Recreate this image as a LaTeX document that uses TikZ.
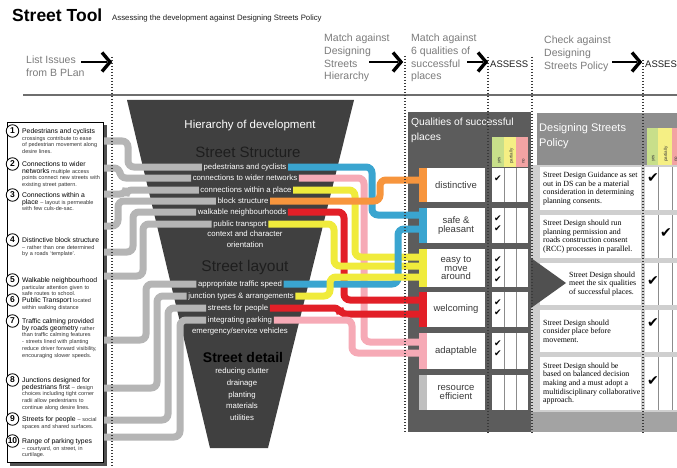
\documentclass[tikz,border=0pt]{standalone}
\usepackage{fontspec}
\setmainfont{Liberation Sans}
\newfontfamily\notefont{Liberation Serif}
\newfontfamily\tickfont{DejaVu Sans}
\usetikzlibrary{calc}

\definecolor{funnel}{HTML}{404040}
\definecolor{qpanel}{HTML}{5C5C5C}
\definecolor{tubegrey}{HTML}{B5B5B5}
\definecolor{tblue}{HTML}{3AA5D0}
\definecolor{tpink}{HTML}{F6AAB6}
\definecolor{tyellow}{HTML}{F0EB3C}
\definecolor{torange}{HTML}{F7953D}
\definecolor{tred}{HTML}{E21F27}
\definecolor{headgrey}{HTML}{7C7C7C}
\definecolor{rulegrey}{HTML}{6E6E6E}
\definecolor{dotgrey}{HTML}{3A3A3A}
\definecolor{shadowgrey}{HTML}{505050}
\definecolor{rhead}{HTML}{8E8E8E}
\definecolor{rbody}{HTML}{CFCFCF}
\definecolor{rband}{HTML}{A3A3A3}
\definecolor{yescol}{HTML}{C8DF8A}
\definecolor{partcol}{HTML}{F5EF84}
\definecolor{nocol}{HTML}{F2A3A3}
\definecolor{qtext}{HTML}{3A3A3A}
\definecolor{darkhead}{HTML}{1E1E1E}
\definecolor{issuetext}{HTML}{333333}

\hyphenpenalty=10000
\exhyphenpenalty=10000
\newcommand{\ttl}[1]{{\fontsize{6.8}{8}\selectfont\color{black}#1}}
\newcommand{\chk}{{\tickfont ✔}}

\tikzset{
  tube/.style={line width=7pt, rounded corners=6pt},
  greytube/.style={tube, draw=tubegrey},
  dotline/.style={draw=dotgrey, line width=1.7pt, dash pattern=on 1.3pt off 1.7pt},
  rowlabel/.style={text=white, font=\fontsize{7.8}{9}\selectfont, inner xsep=1.5pt, inner ysep=0.5pt},
  headtext/.style={text=headgrey, font=\fontsize{10.5}{12.7}\selectfont, align=left, anchor=north west, inner sep=0pt},
  chev/.style={line width=3.4pt, line cap=butt, line join=miter},
  shaft/.style={line width=1.1pt},
  numcirc/.style={circle, draw=black, line width=0.8pt, fill=white, minimum size=12.5pt, inner sep=0pt, font=\bfseries\fontsize{8.5}{8.5}\selectfont},
  issue/.style={anchor=north west, text width=78pt, align=left, inner sep=0pt, text=issuetext, font=\fontsize{5.5}{6.9}\selectfont},
  quality/.style={fill=white, minimum width=58pt, inner sep=1pt, align=center, text=qtext, font=\fontsize{9.5}{8.8}\selectfont},
  policy/.style={anchor=west, align=left, inner sep=0pt, text=black, font=\notefont\fontsize{7.9}{8.6}\selectfont},
  colhead/.style={rotate=90, anchor=west, inner sep=0pt, text=qtext, font=\fontsize{4.5}{5}\selectfont},
  cellline/.style={draw=black!45, line width=0.5pt},
  qtick/.style={inner sep=0pt, font=\fontsize{9}{9}\selectfont},
  ptick/.style={inner sep=0pt, font=\fontsize{14}{14}\selectfont},
}

\begin{document}
\begin{tikzpicture}[x=1pt, y=-1pt]
  \useasboundingbox (0,0) rectangle (677,468);
  \clip (0,0) rectangle (677,468);
  \fill[white] (0,0) rectangle (677,468);

  % title and steps
  \node[anchor=base west, inner sep=0pt, font=\bfseries\fontsize{17.5}{18}\selectfont] (title) at (12,22) {Street Tool};
  \node[anchor=base west, inner sep=0pt, font=\fontsize{7.8}{8}\selectfont, text=darkhead] (sub) at (112,21) {Assessing the development against Designing Streets Policy};
  \node[headtext] (list) at (26,56) {List Issues\\from B PLan};
  \node[headtext] (hier) at (324,34) {Match against\\Designing\\Streets\\Hierarchy};
  \node[headtext] (six) at (411,34) {Match against\\6 qualities of\\successful\\places};
  \node[headtext] (chk) at (544,36) {Check against\\Designing\\Streets Policy};
  \node[anchor=west, inner sep=0pt, font=\fontsize{9.5}{10}\selectfont, text=darkhead] (as1) at (490,64) {ASSESS};
  \node[anchor=west, inner sep=0pt, font=\fontsize{9.5}{10}\selectfont, text=darkhead] (as2) at (645,64) {ASSESS};
  \coordinate (s1) at (81,62);   \coordinate (c1) at (110,62);
  \coordinate (s2) at (369,62);  \coordinate (c2) at (401,62);
  \coordinate (s3) at (467,62);  \coordinate (c3) at (486,62);
  \coordinate (s4) at (612,62);  \coordinate (c4) at (640,62);
  \foreach \i in {1,...,4} {
    \draw[shaft] (s\i) -- ([xshift=-3pt]c\i);
    \draw[chev] ([shift={(-8,-9.5)}]c\i) -- (c\i) -- ([shift={(-8,9.5)}]c\i);
  }
  \draw[line width=2.6pt, draw=rulegrey] (23,95) -- (677,95);

  % funnel
  \fill[funnel] (127,100) -- (354,100) -- (268,448) -- (210,448) -- cycle;

  % list of issues
  \fill[shadowgrey] (10,125) rectangle (107,466);
  \draw[fill=white, line width=0.8pt] (7,122) rectangle (103,462);
  \foreach \i/\y/\t in {
    1/131/{\ttl{Pedestrians and cyclists} crossings contribute to ease of pedestrian movement along desire lines.},
    2/164/{\ttl{Connections to wider networks} multiple access points connect new streets with existing street pattern.},
    3/195/{\ttl{Connections within a place} -- layout is permeable with few culs-de-sac.},
    4/240/{\ttl{Distinctive block structure} -- rather than one determined by a roads ‘template’.},
    5/280/{\ttl{Walkable neighbourhood} particular attention given to safe routes to school.},
    6/300/{\ttl{Public Transport} located within walking distance},
    7/321/{\ttl{Traffic calming provided by roads geometry} rather than traffic calming features - streets lined with planting reduce driver forward visibility, encouraging slower speeds.},
    8/380/{\ttl{Junctions designed for pedestrians first} -- design choices including tight corner radii allow pedestrians to continue along desire lines.},
    9/419/{\ttl{Streets for people} -- social spaces and shared surfaces.},
    10/441/{\ttl{Range of parking types} -- courtyard, on street, in curtilage.}}
  {
    \node[issue] (is\i) at (22,\y-3) {\t};
    \node[numcirc] (n\i) at (12.5,\y) {\i};
  }

  % hierarchy labels
  \node[text=white, font=\fontsize{11.5}{12}\selectfont] (hd) at (250,126) {Hierarchy of development};
  \node[text=darkhead, font=\fontsize{15}{15}\selectfont] (ss) at (248,152) {Street Structure};
  \node[text=darkhead, font=\fontsize{15.5}{15}\selectfont] (sl) at (245,267) {Street layout};
  \node[text=black, font=\bfseries\fontsize{14}{14}\selectfont] (sd) at (243,357) {Street detail};
  \foreach \n/\x/\y/\t in {pc/245/167/pedestrians and cyclists, cw/245/178/connections to wider networks,
      cp/246/190/connections within a place, bs/243/201/block structure, wn/242/212/walkable neighbourhoods,
      tr/240/224/public transport, cc/245/234/context and character, ori/245/245/orientation,
      ts/240/284/appropriate traffic speed, jt/241/296/junction types \& arrangements, sfp/238/308/streets for people,
      ip/240/320/integrating parking, ev/240/331/{emergency/service vehicles},
      rc/242/371/reducing clutter, dr/242/383/drainage, pl/242/395/planting, ma/242/406/materials, ut/242/418/utilities}
    \node[rowlabel] (\n) at (\x,\y) {\t};

  % grey tubes from issues to hierarchy
  \foreach \i/\y/\dx/\r in {1/141/24/pc, 2/168/16/cw, 3/194/22/cp, 4/226/14/bs, 5/252/29/wn,
      6/276/39/tr, 7/340/42/ts, 8/388/53/jt, 9/420/64/sfp, 10/437/76/ip}
  {
    \coordinate (g\i) at (104,\y);
    \draw[greytube] (g\i) -- ++(\dx,0) |- (\r.west);
  }

  % qualities panel
  \fill[qpanel] (408,112) rectangle (531,432);
  \node[anchor=north west, align=left, inner sep=0pt, text=white, font=\fontsize{10.3}{14.5}\selectfont] (qh) at (411,118) {Qualities of successful\\places};
  \fill[yescol] (492,137) rectangle (504,167);
  \fill[partcol] (504,137) rectangle (516,167);
  \fill[nocol] (516,137) rectangle (528,167);
  \node[colhead] (qy) at (499.5,164) {yes};
  \node[colhead] (qp) at (511.5,164) {partially};
  \node[colhead] (qn) at (523.5,164) {no};
  \foreach \n/\ya/\yb/\t in {qd/168/202/distinctive, qs/208/243/{safe \&\\pleasant}, qe/249/287/{easy to\\move\\around},
      qw/292/327/welcoming, qa/333/369/adaptable, qr/375/410/{resource\\efficient}}
  {
    \node[quality, minimum height=\yb-\ya] (\n) at (456,{(\ya+\yb)/2}) {\t};
    \fill[white] (492,\ya) rectangle (528,\yb);
    \draw[cellline] (504,\ya) -- (504,\yb) (516,\ya) -- (516,\yb);
  }

  % coloured tubes from hierarchy to qualities
  \foreach \r/\q/\y/\bx/\c in {cw/qa/342/364/tpink, cp/qe/257/355/tyellow, pc/qs/215/372/tblue,
      wn/qw/300/344/tred, tr/qe/266/334/tyellow, ts/qs/229/398/tblue, jt/qe/277/330/tyellow,
      sfp/qw/314/340/tred, ip/qa/353/352/tpink, bs/qd/180/380/torange}
    \draw[tube, draw=\c] (\r.east) -| (\bx,\y) -- (\q.west |- 0,\y);
  \foreach \n/\c in {qd/torange, qs/tblue, qe/tyellow, qw/tred, qa/tpink, qr/black!25}
    \fill[\c] ([xshift=-8pt]\n.north west) rectangle (\n.south west);
  \foreach \ya/\k in {168/1, 208/2, 249/3, 292/2, 333/2}
    \foreach \j in {1,...,\k}
      \node[qtick] at (498,{\ya+1+10*\j}) {\chk};

  % designing streets policy
  \fill[rbody] (531,165) rectangle (677,432);
  \fill[rhead] (537,113) rectangle (677,165);
  \fill[yescol] (647,128) rectangle (658,165);
  \fill[partcol] (658,128) rectangle (672,165);
  \fill[nocol] (672,128) rectangle (680,165);
  \node[colhead] (py) at (653.5,162) {yes};
  \node[colhead] (pp) at (666,162) {partially};
  \node[colhead] (pn) at (676,162) {no};
  \node[anchor=north west, align=left, inner sep=0pt, text=white, font=\fontsize{11}{15}\selectfont] (ph) at (539,123) {Designing Streets\\Policy};
  \fill[rband] (531,412) rectangle (677,432);
  \foreach \n/\ya/\yb/\xl/\t in {
    p1/167/210/543/{Street Design Guidance as set\\out in DS can be a material\\consideration in determining\\planning consents.},
    p2/215/258/543/{Street Design should run\\planning permission  and\\roads construction consent\\(RCC) processes in parallel.},
    p3/263/305/569/{Street Design should\\meet the six qualities\\of successful places.},
    p4/310/352/543/{Street Design should\\consider place before\\movement.},
    p5/357/410/543/{Street Design should be\\based on balanced decision\\making and a must adopt a\\multidisciplinary collaborative\\approach.}}
  {
    \fill[white] (540,\ya) rectangle (641,\yb);
    \fill[white] (645,\ya) rectangle (677,\yb);
    \draw[cellline] (658,\ya) -- (658,\yb) (672,\ya) -- (672,\yb);
    \node[policy] (\n) at (\xl,{(\ya+\yb)/2}) {\t};
  }
  \fill[shadowgrey] (531,258) -- (566,283) -- (531,308) -- cycle;
  \foreach \x/\y in {653/178, 666/233, 653/281, 653/323, 653/381}
    \node[ptick] at (\x,\y) {\chk};

  % step dividers
  \foreach \x/\ya/\yb in {112/57/468, 405/56/433, 488/57/433, 532/57/433, 643/60/433}
    \draw[dotline] (\x,\ya) -- (\x,\yb);
\end{tikzpicture}
\end{document}
